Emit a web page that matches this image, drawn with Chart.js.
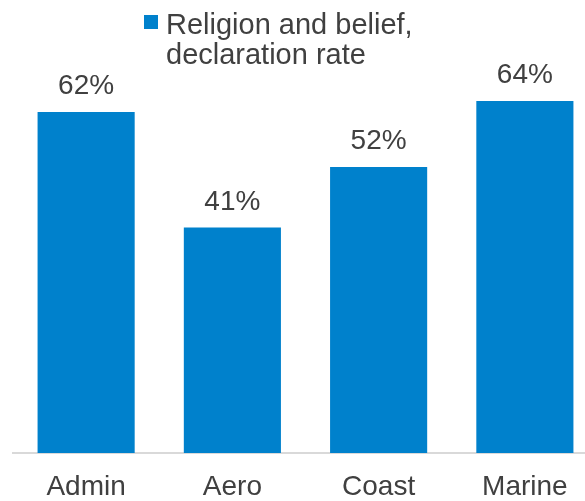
<!DOCTYPE html>
<html>
<head>
<meta charset="utf-8">
<script src="https://cdn.jsdelivr.net/npm/chart.js@4"></script>
<style>
    html, body { margin: 0; padding: 0; background: #fff; overflow: hidden; }
    #wrap { width: 600px; height: 501px; }
</style>
</head>
<body>
<div id="wrap"><canvas id="barChart" width="600" height="501"></canvas></div>
<script>
// Chart data
const categories = ['Admin', 'Aero', 'Coast', 'Marine'];
const declarationRates = [62, 41, 52, 64];
const seriesLabel = ['Religion and belief,', 'declaration rate'];

const barColor = '#0081cc';
const textColor = '#404040';
const fontFamily = '"Liberation Sans", Arial, sans-serif';

// Value labels above each bar
const valueLabels = {
    id: 'valueLabels',
    afterDatasetsDraw(chart) {
        const ctx = chart.ctx;
        const meta = chart.getDatasetMeta(0);
        ctx.save();
        ctx.font = '28px ' + fontFamily;
        ctx.fillStyle = textColor;
        ctx.textAlign = 'center';
        ctx.textBaseline = 'alphabetic';
        meta.data.forEach((bar, i) => {
            ctx.fillText(declarationRates[i] + '%', bar.x, bar.y - 18);
        });
        ctx.restore();
    }
};

// Two-line legend at the top
const wrapLegend = {
    id: 'wrapLegend',
    afterDraw(chart) {
        const ctx = chart.ctx;
        ctx.save();
        ctx.fillStyle = barColor;
        ctx.fillRect(144, 15, 14, 14);
        ctx.font = '29px ' + fontFamily;
        ctx.fillStyle = textColor;
        ctx.textAlign = 'left';
        ctx.textBaseline = 'alphabetic';
        seriesLabel.forEach((line, i) => {
            ctx.fillText(line, 166, 34 + i * 30);
        });
        ctx.restore();
    }
};

const ctx = document.getElementById('barChart').getContext('2d');
new Chart(ctx, {
    type: 'bar',
    data: {
        labels: categories,
        datasets: [
            {
                label: seriesLabel.join(' '),
                data: declarationRates,
                backgroundColor: barColor,
                borderWidth: 0,
                categoryPercentage: 1,
                barPercentage: 0.664,
            },
        ],
    },
    options: {
        responsive: false,
        animation: false,
        devicePixelRatio: 1,
        layout: {
            padding: { left: 13, right: 2, top: 13, bottom: 0 },
        },
        plugins: {
            legend: { display: false },
            tooltip: { enabled: false },
        },
        scales: {
            x: {
                grid: { display: false, drawTicks: false },
                border: { display: true, color: '#d9d9d9', width: 2 },
                ticks: {
                    color: textColor,
                    padding: 20,
                    font: { family: fontFamily, size: 28, lineHeight: 1 },
                },
                afterFit(scale) {
                    scale.height = 48;
                },
            },
            y: {
                display: false,
                min: 0,
                max: 80,
            },
        },
    },
    plugins: [valueLabels, wrapLegend],
});
</script>
</body>
</html>
